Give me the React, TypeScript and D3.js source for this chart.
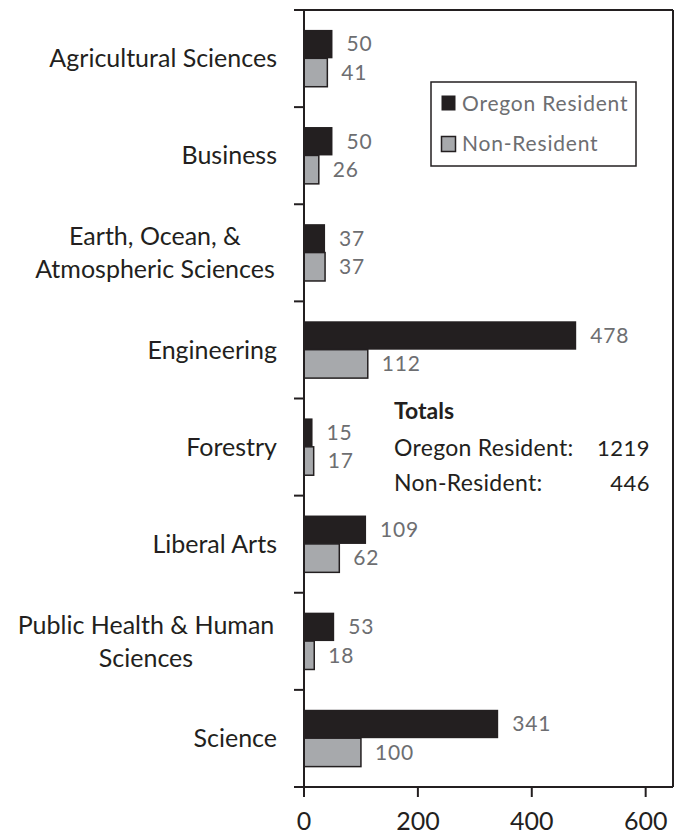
import React from 'react';
import * as d3 from 'd3';

const categories = [
  'Agricultural Sciences',
  'Business',
  'Earth, Ocean, &\nAtmospheric Sciences',
  'Engineering',
  'Forestry',
  'Liberal Arts',
  'Public Health & Human\nSciences',
  'Science',
];
const oregonResident = [50, 50, 37, 478, 15, 109, 53, 341];
const nonResident = [41, 26, 37, 112, 17, 62, 18, 100];
const seriesNames = ['Oregon Resident', 'Non-Resident'];
const xTicks = [0, 200, 400, 600];
const totals = [
  { label: 'Oregon Resident:', value: 1219 },
  { label: 'Non-Resident:', value: 446 },
];

const W = 680;
const H = 835;
const FONT = 'Lato, "Open Sans", sans-serif';
const DARK = '#231f20';
const GREY = '#a7a9ac';
const LABEL = '#6d6e71';

export default function App() {
  const x = d3.scaleLinear().domain([0, 648]).range([304, 673]);
  const y = d3.scaleBand<string>().domain(categories).range([10, 787]);
  const bw = y.bandwidth();
  const inner = d3.scaleBand<string>().domain(seriesNames).range([bw * 0.205, bw * 0.79]);
  const values = [oregonResident, nonResident];
  const fills = [DARK, GREY];
  const boundaries = d3.range(categories.length + 1).map(i => 10 + i * bw);

  return (
    <svg width={W} height={H} style={{ position: 'absolute', left: 0, top: 0, background: '#fff' }}>
      {/* bars */}
      {categories.map((c, i) => (
        <g key={c}>
          {seriesNames.map((s, k) => {
            const v = values[k][i];
            const by = (y(c) ?? 0) + (inner(s) ?? 0);
            return (
              <g key={s}>
                <rect
                  x={x(0)}
                  y={by}
                  width={x(v) - x(0)}
                  height={inner.bandwidth()}
                  fill={fills[k]}
                  stroke={DARK}
                  strokeWidth={k === 1 ? 1.5 : 0}
                />
                <text
                  x={x(v) + 14}
                  y={by + inner.bandwidth() / 2}
                  dy="0.35em"
                  fontFamily={FONT}
                  fontSize={21}
                  fill={LABEL}
                  letterSpacing={0.8}
                >
                  {v}
                </text>
              </g>
            );
          })}
        </g>
      ))}

      {/* frame */}
      <line x1={294} x2={673} y1={10} y2={10} stroke={DARK} strokeWidth={2} />
      <line x1={673} x2={673} y1={10} y2={787} stroke={DARK} strokeWidth={2} />
      <line x1={304} x2={304} y1={10} y2={787} stroke={DARK} strokeWidth={2} />
      <line x1={304} x2={673} y1={787} y2={787} stroke={DARK} strokeWidth={2} />

      {/* category ticks */}
      {boundaries.map((b, i) => (
        <line key={i} x1={294} x2={304} y1={b} y2={b} stroke={DARK} strokeWidth={2} />
      ))}

      {/* category labels */}
      {categories.map(c => {
        const lines = c.split('\n');
        const cy = (y(c) ?? 0) + bw / 2;
        const lh = 33;
        return (
          <text
            key={c}
            fontFamily={FONT}
            fontSize={25}
            fill={DARK}
            textAnchor={lines.length > 1 ? 'middle' : 'end'}
          >
            {lines.map((l, j) => (
              <tspan
                key={j}
                x={lines.length > 1 ? (c.startsWith('Earth') ? 155 : 146) : 277}
                y={cy + (j - (lines.length - 1) / 2) * lh}
                dy="0.35em"
              >
                {l}
              </tspan>
            ))}
          </text>
        );
      })}

      {/* x axis */}
      {xTicks.map(t => (
        <g key={t}>
          <line x1={x(t)} x2={x(t)} y1={787} y2={797} stroke={DARK} strokeWidth={2} />
          <text x={x(t)} y={830} textAnchor="middle" fontFamily={FONT} fontSize={25} fill={DARK}>
            {t}
          </text>
        </g>
      ))}

      {/* legend */}
      <rect x={431} y={82} width={205} height={84} fill="#fff" stroke={DARK} strokeWidth={1.5} />
      {seriesNames.map((s, k) => (
        <g key={s}>
          <rect
            x={441.5}
            y={95.5 + k * 41}
            width={14}
            height={15}
            fill={fills[k]}
            stroke={DARK}
            strokeWidth={k === 1 ? 1.5 : 0}
          />
          <text x={462} y={110.5 + k * 40.5} fontFamily={FONT} fontSize={21} fill={LABEL} letterSpacing={0.8}>
            {s}
          </text>
        </g>
      ))}

      {/* totals */}
      <text x={394} y={419} fontFamily={FONT} fontSize={23} fontWeight="bold" fill={DARK}>
        Totals
      </text>
      {totals.map((t, k) => (
        <g key={t.label}>
          <text x={394} y={455.5 + k * 35} fontFamily={FONT} fontSize={23} fill={DARK} letterSpacing={0.3}>
            {t.label}
          </text>
          <text x={650} y={455.5 + k * 35} textAnchor="end" fontFamily={FONT} fontSize={22} fill={DARK} letterSpacing={0.5}>
            {t.value}
          </text>
        </g>
      ))}
    </svg>
  );
}
